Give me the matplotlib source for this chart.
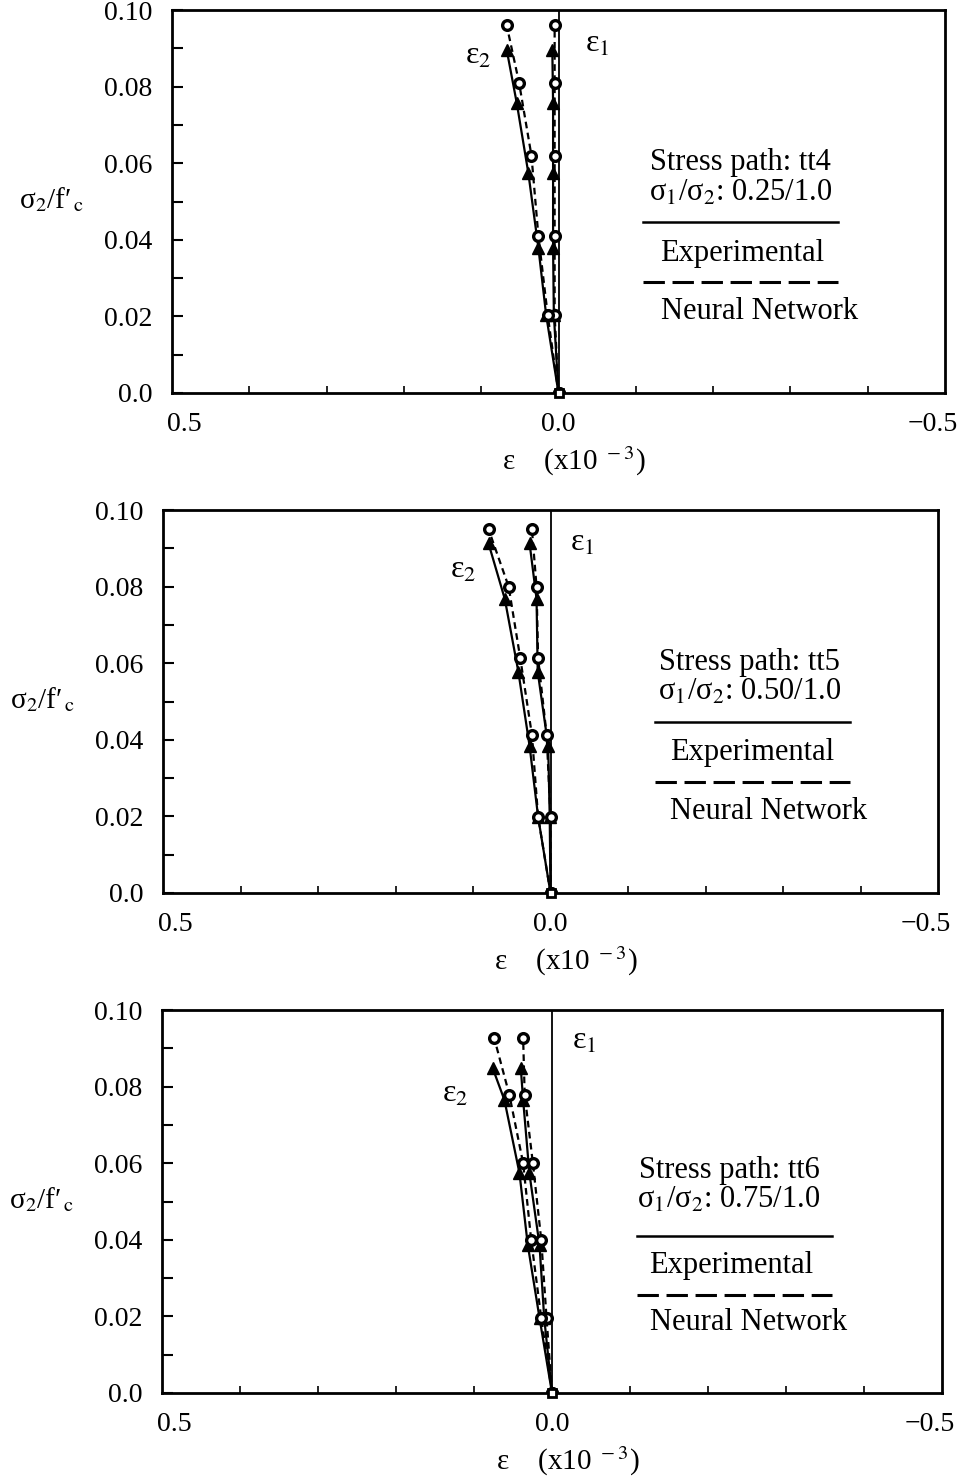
"""Three-panel strain plot: experimental vs neural network, stress paths tt4/tt5/tt6."""

import matplotlib

matplotlib.use("Agg")
import matplotlib.pyplot as plt
from matplotlib.transforms import ScaledTranslation

plt.rcParams["font.family"] = ["Liberation Serif", "DejaVu Serif"]
plt.rcParams["mathtext.fontset"] = "stix"
plt.rcParams["axes.unicode_minus"] = True

# stress levels sigma2/f'c (origin first)
STRESS_EXP = {
    "tt4": [0.0, 0.0204, 0.0379, 0.0574, 0.0757, 0.0896],
    "tt5": [0.0, 0.0199, 0.0384, 0.0578, 0.0768, 0.0913],
    "tt6": [0.0, 0.0196, 0.0386, 0.0574, 0.0765, 0.0848],
}
STRESS_NN = {
    "tt4": [0.0, 0.0204, 0.0410, 0.0620, 0.0810, 0.0960],
    "tt5": [0.0, 0.0199, 0.0413, 0.0613, 0.0800, 0.0950],
    "tt6": [0.0, 0.0196, 0.0400, 0.0600, 0.0778, 0.0926],
}
# strains (x10^-3)
EPS1_EXP = {
    "tt4": [0.0, 0.006, 0.007, 0.007, 0.007, 0.008],
    "tt5": [0.0, 0.001, 0.003, 0.0165, 0.018, 0.027],
    "tt6": [0.0, 0.010, 0.016, 0.029, 0.037, 0.040],
}
EPS1_NN = {
    "tt4": [0.0, 0.005, 0.005, 0.005, 0.005, 0.005],
    "tt5": [0.0, 0.0, 0.005, 0.016, 0.018, 0.024],
    "tt6": [0.0, 0.007, 0.0138, 0.0245, 0.035, 0.037],
}
EPS2_EXP = {
    "tt4": [0.0, 0.016, 0.026, 0.039, 0.054, 0.067],
    "tt5": [0.0, 0.016, 0.027, 0.0415, 0.059, 0.080],
    "tt6": [0.0, 0.016, 0.031, 0.0417, 0.061, 0.076],
}
EPS2_NN = {
    "tt4": [0.0, 0.014, 0.026, 0.035, 0.051, 0.067],
    "tt5": [0.0, 0.016, 0.024, 0.039, 0.054, 0.080],
    "tt6": [0.0, 0.0138, 0.0267, 0.037, 0.0546, 0.074],
}
RATIOS = {"tt4": "0.25/1.0", "tt5": "0.50/1.0", "tt6": "0.75/1.0"}
YTICKS = [0.0, 0.02, 0.04, 0.06, 0.08, 0.10]
YTICK_LABELS = ["0.0", "0.02", "0.04", "0.06", "0.08", "0.10"]
XTICKS = [0.5, 0.0, -0.5]
XTICK_LABELS = ["0.5", "0.0", "\u22120.5"]

W, H = 967, 1478
# axes boxes in pixels: left, top, right, bottom
BOXES = {
    "tt4": (172, 10, 945, 393),
    "tt5": (163, 510, 938, 893),
    "tt6": (162, 1010, 942, 1393),
}
# legend block layout in axes coords: (text x, stress y, ratio y, solid y, exp y, dash y, nn y, line x0, line x1)
LEGEND = {
    "tt4": (0.735, 0.603, 0.522, 0.446, 0.363, 0.290, 0.214, 0.609, 0.862),
    "tt5": (0.757, 0.603, 0.525, 0.446, 0.366, 0.290, 0.214, 0.635, 0.886),
    "tt6": (0.727, 0.582, 0.504, 0.410, 0.334, 0.256, 0.183, 0.609, 0.859),
}
# epsilon label positions in data coords
EPS_LABELS = {
    "tt4": ((0.104, 0.088), (-0.050, 0.091)),
    "tt5": ((0.113, 0.0843), (-0.041, 0.0914)),
    "tt6": ((0.124, 0.078), (-0.042, 0.0917)),
}

fig = plt.figure(figsize=(W / 100, H / 100), dpi=100)

for key, (l, t, r, b) in BOXES.items():
    ax = fig.add_axes([l / W, 1 - b / H, (r - l) / W, (b - t) / H])
    ax.set_xlim(0.5, -0.5)
    ax.set_ylim(0.0, 0.10)

    # experimental: solid + filled triangles; neural network: dashed + open circles
    for eps_exp, eps_nn in ((EPS1_EXP, EPS1_NN), (EPS2_EXP, EPS2_NN)):
        ax.plot(eps_exp[key], STRESS_EXP[key], "-", color="black", lw=1.6,
                marker="^", ms=8.5, mfc="black", mec="black", zorder=3)
        ax.plot(eps_nn[key], STRESS_NN[key], color="black", lw=1.6, ls=(0, (3, 2)),
                marker="o", ms=7, mfc="white", mec="black", mew=2.4, zorder=4)
    ax.plot([0.0], [0.0], marker="s", ms=6, mfc="white", mec="black", mew=2, zorder=5,
            clip_on=False)
    ax.axvline(0.0, color="black", lw=1.3, zorder=2)

    for s in ax.spines.values():
        s.set_linewidth(2.0)

    ax.set_xticks(XTICKS)
    ax.set_xticklabels(XTICK_LABELS, fontsize=20)
    ax.set_xticks([0.4, 0.3, 0.2, 0.1, -0.1, -0.2, -0.3, -0.4], minor=True)
    ax.set_yticks(YTICKS)
    ax.set_yticklabels(YTICK_LABELS, fontsize=20)
    ax.set_yticks([0.01, 0.03, 0.05, 0.07, 0.09], minor=True)
    ax.tick_params(axis="both", which="both", direction="in", top=False, right=False)
    ax.tick_params(axis="y", which="both", length=8, width=1.5, pad=14)
    ax.tick_params(axis="x", which="major", length=0, pad=14)
    ax.tick_params(axis="x", which="minor", length=5, width=1.2)
    xl = ax.get_xticklabels()
    xl[0].set_transform(xl[0].get_transform() + ScaledTranslation(0.12, 0, fig.dpi_scale_trans))
    xl[2].set_transform(xl[2].get_transform() + ScaledTranslation(-0.12, 0, fig.dpi_scale_trans))

    ax.set_xlabel("\u03b5    (x10$^{\\;\\,-3}$)", fontsize=21)
    ax.xaxis.set_label_coords(0.52, -0.135)
    ax.text(-0.156 * 773 / (r - l), 0.504, "\u03c3$_2$/f\u2032$_{\\,\\mathrm{c}}$", fontsize=21,
            transform=ax.transAxes, ha="center", va="center")

    (e2x, e2y), (e1x, e1y) = EPS_LABELS[key]
    ax.text(e2x, e2y, "\u03b5$_2$", fontsize=23, ha="center", va="center")
    ax.text(e1x, e1y, "\u03b5$_1$", fontsize=23, ha="center", va="center")

    tx, ys, yr, yl1, ye, yl2, yn, x0, x1 = LEGEND[key]
    ax.text(tx, ys, f"Stress path: {key}", fontsize=22, transform=ax.transAxes,
            ha="center", va="center")
    ax.text(tx, yr, "\u03c3$_1$/\u03c3$_2$: " + RATIOS[key], fontsize=22,
            transform=ax.transAxes, ha="center", va="center")
    ax.plot([x0, x1], [yl1, yl1], "-", color="black", lw=1.8, transform=ax.transAxes)
    ax.text(tx + 0.003, ye, "Experimental", fontsize=22, transform=ax.transAxes,
            ha="center", va="center")
    ax.plot([x0, x1], [yl2, yl2], color="black", lw=2.2, ls=(0, (7, 2.5)),
            transform=ax.transAxes)
    ax.text(tx + 0.025, yn, "Neural Network", fontsize=22, transform=ax.transAxes,
            ha="center", va="center")

fig.savefig("out.png", dpi=100)
